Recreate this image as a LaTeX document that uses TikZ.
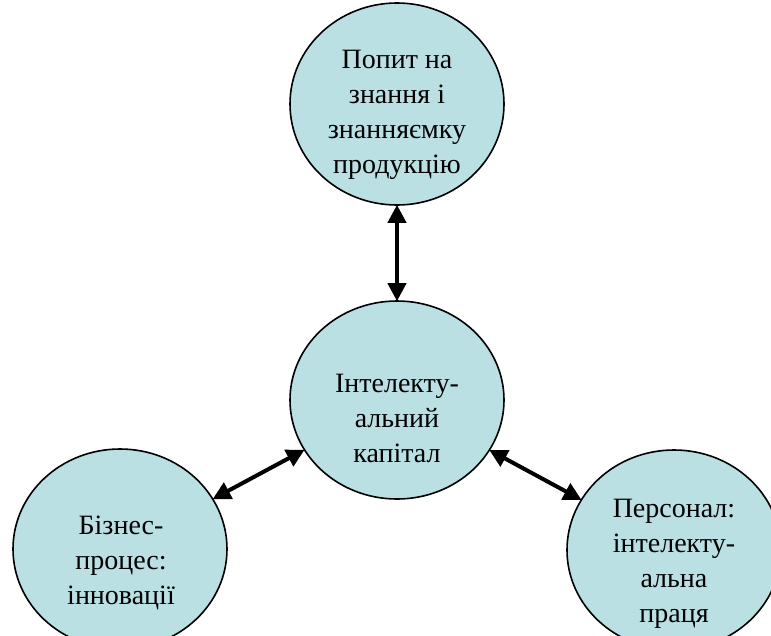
\documentclass[tikz,border=0pt]{standalone}
\usepackage{fontspec}
\setmainfont{Liberation Serif}
\usetikzlibrary{shapes.geometric,arrows.meta}
\definecolor{bubble}{RGB}{186,224,227}
\tikzset{
  bubblenode/.style={ellipse, draw=black, line width=1.6pt, fill=bubble, inner sep=0pt, minimum width=214pt, minimum height=202pt},
  bubbletext/.style={align=center, font=\fontsize{28}{35}\selectfont, inner sep=0pt},
  link/.style={line width=4pt, {Triangle[length=18pt,width=18pt]}-{Triangle[length=18pt,width=18pt]}, shorten <=-1pt, shorten >=-1pt}
}
\begin{document}
\begin{tikzpicture}[x=1pt,y=-1pt]
\useasboundingbox (0,0) rectangle (771,635);
\clip (0,0) rectangle (771,635);
\node[bubblenode] (top) at (397,104) {};
\node[bubblenode, minimum height=198pt] (cen) at (397,400) {};
\node[bubblenode, minimum height=200pt] (bl) at (120,549) {};
\node[bubblenode, minimum height=200pt] (br) at (674,550) {};
\node[bubbletext] (topt) at (397,115) {Попит на\\знання і\\знанняємку\\продукцію};
\node[bubbletext] (cent) at (397,418) {Інтелекту-\\альний\\капітал};
\node[bubbletext] (blt) at (121,563) {Бізнес-\\процес:\\інновації};
\node[bubbletext] (brt) at (674,564) {Персонал:\\інтелекту-\\альна\\праця};
\draw[link] (top) -- (cen);
\draw[link] (cen) -- (bl);
\draw[link] (cen) -- (br);
\end{tikzpicture}
\end{document}
